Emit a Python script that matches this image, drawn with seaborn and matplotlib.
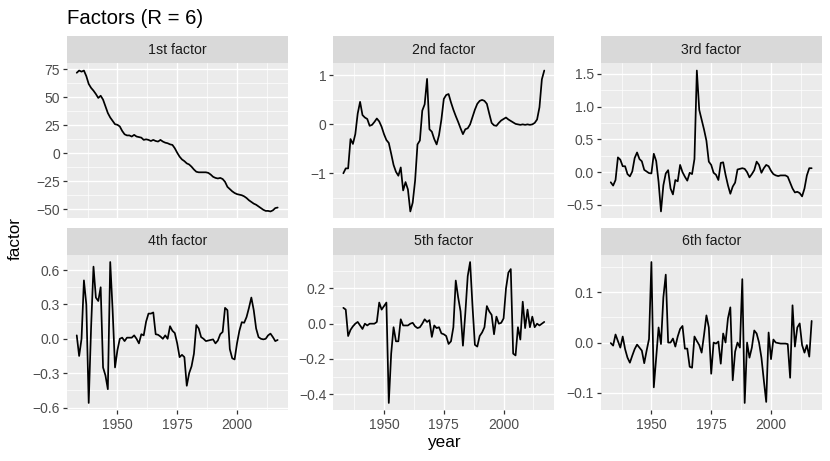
import matplotlib
matplotlib.use("Agg")
import matplotlib.pyplot as plt
import numpy as np
import seaborn as sns

years = list(range(1933, 2018))

factor_1 = [72, 74, 73, 74, 69, 62, 58.5, 56, 53, 49.5,
            51.5, 48, 42, 36, 32, 29, 26, 25.5, 24, 20,
            17, 16, 16, 15, 16.5, 15, 14.5, 14, 12, 12.5,
            12, 11, 12, 11, 10.5, 12, 10.5, 9.5, 9, 8,
            7.5, 4.5, 0.5, -3, -5.5, -7, -9, -10, -12, -14.5,
            -16.5, -17, -17, -17, -17, -17.5, -19, -21, -22, -22.5,
            -22, -23, -25.5, -30, -32, -34, -35.5, -36.5, -37, -37.5,
            -38.5, -40, -42, -43.5, -45, -46, -47.5, -49, -50.5, -51.5,
            -51.5, -52, -51, -49, -48.5]

factor_2 = [-1.0, -0.9, -0.9, -0.3, -0.4, -0.2, 0.22, 0.46, 0.19, 0.14,
            0.11, -0.03, -0.01, 0.05, 0.12, 0.06, -0.05, -0.2, -0.32, -0.38,
            -0.6, -0.83, -0.97, -1.05, -0.88, -1.35, -1.18, -1.33, -1.78, -1.6,
            -1.15, -0.41, -0.33, 0.28, 0.41, 0.93, -0.1, -0.15, -0.3, -0.41,
            -0.22, 0.1, 0.52, 0.6, 0.62, 0.45, 0.3, 0.17, 0.05, -0.08,
            -0.2, -0.1, -0.08, 0.0, 0.15, 0.3, 0.42, 0.48, 0.5, 0.48,
            0.42, 0.22, 0.03, -0.02, -0.03, 0.03, 0.08, 0.11, 0.14, 0.1,
            0.07, 0.04, 0.01, 0.0, -0.01, 0.0, -0.01, 0.0, -0.01, 0.0,
            0.03, 0.1, 0.35, 0.92, 1.1]

factor_3 = [-0.155, -0.205, -0.12, 0.225, 0.19, 0.09, 0.09, -0.03, -0.065, 0.01,
            0.215, 0.30, 0.20, 0.165, 0.035, 0.01, -0.015, -0.02, 0.28, 0.17,
            -0.15, -0.6, -0.2, -0.02, 0.03, -0.25, -0.34, -0.12, -0.14, 0.11,
            0.0, -0.07, -0.13, -0.01, -0.03, 0.2, 1.55, 0.95, 0.8, 0.65,
            0.48, 0.16, 0.11, -0.01, -0.04, -0.12, 0.14, 0.15, -0.04, -0.2,
            -0.33, -0.22, -0.16, 0.04, 0.05, 0.06, 0.05, 0.0, -0.08, -0.03,
            0.03, 0.16, 0.11, -0.01, 0.06, 0.11, 0.09, 0.02, -0.03, -0.05,
            -0.06, -0.05, -0.05, -0.05, -0.07, -0.16, -0.25, -0.31, -0.30, -0.32,
            -0.37, -0.25, -0.05, 0.06, 0.06]

factor_4 = [0.03, -0.15, 0.0, 0.51, 0.30, -0.56, 0.10, 0.63, 0.36, 0.33,
            0.45, -0.25, -0.32, -0.44, 0.67, 0.25, -0.25, -0.10, 0.0, 0.01,
            -0.02, 0.01, 0.01, 0.01, 0.03, 0.0, -0.04, 0.04, 0.03, 0.15,
            0.22, 0.22, 0.23, 0.04, 0.035, 0.02, 0.0, 0.03, 0.0, 0.11,
            0.07, 0.05, -0.04, -0.16, -0.14, -0.16, -0.41, -0.30, -0.24, -0.13,
            0.12, 0.09, 0.015, 0.0, -0.02, -0.015, -0.01, -0.005, -0.04, -0.015,
            0.04, 0.06, 0.27, 0.25, -0.09, -0.17, -0.18, -0.04, 0.07, 0.145,
            0.14, 0.19, 0.27, 0.36, 0.25, 0.09, 0.015, 0.0, -0.005, 0.0,
            0.03, 0.045, 0.015, -0.02, -0.01]

factor_5 = [0.09, 0.08, -0.07, -0.035, -0.015, 0.0, 0.01, -0.01, -0.03, 0.0,
            -0.01, 0.0, 0.0, 0.0, 0.01, 0.12, 0.08, 0.10, 0.12, -0.45,
            -0.17, -0.02, -0.10, -0.10, 0.025, -0.01, -0.01, -0.01, 0.0, 0.005,
            -0.015, -0.025, -0.02, 0.0, 0.025, 0.01, 0.02, -0.075, -0.01, -0.025,
            -0.02, -0.055, -0.06, -0.07, -0.115, -0.10, -0.02, 0.245, 0.15, 0.07,
            -0.125, 0.06, 0.27, 0.35, 0.10, -0.12, -0.13, -0.07, -0.05, -0.02,
            0.10, 0.07, 0.05, -0.06, 0.04, 0.0, 0.005, 0.03, 0.20, 0.29,
            0.31, -0.17, -0.18, -0.02, -0.09, 0.125, -0.025, 0.08, -0.02, 0.04,
            -0.02, 0.0, -0.01, 0.0, 0.01]

factor_6 = [-0.001, -0.006, 0.016, 0.003, -0.010, 0.012, -0.013, -0.030, -0.040, -0.026,
            -0.013, -0.004, -0.010, -0.016, -0.041, -0.016, 0.007, 0.160, -0.089, -0.030,
            0.030, -0.003, 0.090, 0.135, 0.000, 0.000, 0.008, -0.008, 0.012, 0.027,
            0.033, -0.012, -0.012, -0.048, -0.050, 0.012, 0.003, -0.005, -0.020, 0.015,
            0.054, 0.030, -0.062, 0.000, -0.002, 0.002, -0.042, 0.018, 0.000, 0.048,
            0.070, -0.075, -0.018, 0.000, -0.010, 0.126, -0.120, 0.000, -0.030, -0.010,
            0.024, 0.018, 0.000, -0.030, -0.075, -0.118, 0.020, -0.033, 0.006, 0.000,
            -0.001, -0.002, -0.002, -0.002, -0.003, -0.070, 0.074, -0.008, 0.030, 0.038,
            -0.005, -0.020, -0.005, -0.028, 0.043]

series = [factor_1, factor_2, factor_3, factor_4, factor_5, factor_6]
panel_titles = ["1st factor", "2nd factor", "3rd factor",
                "4th factor", "5th factor", "6th factor"]

y_breaks = [[-50, -25, 0, 25, 50, 75],
            [-1, 0, 1],
            [-0.5, 0.0, 0.5, 1.0, 1.5],
            [-0.6, -0.3, 0.0, 0.3, 0.6],
            [-0.4, -0.2, 0.0, 0.2],
            [-0.1, 0.0, 0.1]]
y_labels = [["\u221250", "\u221225", "0", "25", "50", "75"],
            ["\u22121", "0", "1"],
            ["\u22120.5", "0.0", "0.5", "1.0", "1.5"],
            ["\u22120.6", "\u22120.3", "0.0", "0.3", "0.6"],
            ["\u22120.4", "\u22120.2", "0.0", "0.2"],
            ["\u22120.1", "0.0", "0.1"]]
x_breaks = [1950, 1975, 2000]
x_labels = ["1950", "1975", "2000"]

sns.set_theme(style="darkgrid")
plt.rcParams["font.family"] = ["Liberation Sans", "DejaVu Sans"]

W, H = 830, 461
fig = plt.figure(figsize=(W / 100, H / 100), dpi=100)


def rect(x0, y0, x1, y1):
    return [x0 / W, 1 - y1 / H, (x1 - x0) / W, (y1 - y0) / H]


def minor_breaks(br, lo, hi):
    step = br[1] - br[0]
    cand = [br[0] - step / 2] + [b + step / 2 for b in br]
    return [m for m in cand if lo <= m <= hi]


col_x = [(66.7, 287.7), (333.3, 554.3), (600.7, 821.7)]
row_y = [(63.5, 218.5), (255.0, 410.0)]
strip_h = 27.3

xlo, xhi = min(years), max(years)
xpad = 0.05 * (xhi - xlo)

for i in range(6):
    r, c = divmod(i, 3)
    x0, x1 = col_x[c]
    y0, y1 = row_y[r]
    ax = fig.add_axes(rect(x0, y0, x1, y1))
    ax.set_facecolor("#EBEBEB")
    ax.set_axisbelow(True)
    sns.lineplot(x=years, y=series[i], ax=ax, color="black", linewidth=1.25)

    vals = np.array(series[i], dtype=float)
    ylo, yhi = vals.min(), vals.max()
    ypad = 0.05 * (yhi - ylo)
    ax.set_ylim(ylo - ypad, yhi + ypad)
    ax.set_xlim(xlo - xpad, xhi + xpad)

    ax.set_yticks(y_breaks[i], labels=y_labels[i])
    ax.set_yticks(minor_breaks(y_breaks[i], ylo - ypad, yhi + ypad), minor=True)
    ax.set_xticks(x_breaks, labels=x_labels)
    ax.set_xticks(minor_breaks(x_breaks, xlo - xpad, xhi + xpad), minor=True)

    ax.grid(False)
    ax.grid(which="major", color="white", linewidth=1.0)
    ax.grid(which="minor", color="white", linewidth=0.5)
    for s in ax.spines.values():
        s.set_visible(False)

    ax.tick_params(which="minor", length=0)
    ax.tick_params(axis="y", which="major", left=True, length=3.2, width=0.9,
                   color="#333333", labelsize=10, labelcolor="#4D4D4D", pad=1.8)
    if r == 1:
        ax.tick_params(axis="x", which="major", bottom=True, length=3.2, width=0.9,
                       color="#333333", labelsize=10, labelcolor="#4D4D4D", pad=2.2)
    else:
        ax.tick_params(axis="x", which="both", bottom=False, labelbottom=False)
    ax.set_xlabel("")
    ax.set_ylabel("")

    sax = fig.add_axes(rect(x0, y0 - strip_h, x1, y0))
    sax.set_facecolor("#D9D9D9")
    sax.set_xticks([])
    sax.set_yticks([])
    sax.grid(False)
    for s in sax.spines.values():
        s.set_visible(False)
    sax.text(0.5, 0.5, panel_titles[i], ha="center", va="center",
             fontsize=10.2, color="#1A1A1A", transform=sax.transAxes)

fig.text(66.7 / W, 1 - 23.5 / H, "Factors (R = 6)", fontsize=14.7,
         ha="left", va="baseline", color="black")
fig.text(15 / W, 1 - 238 / H, "factor", rotation=90, fontsize=12.3,
         ha="center", va="center", color="black")
fig.text(444.2 / W, 1 - 442 / H, "year", fontsize=12.3,
         ha="center", va="center", color="black")

fig.savefig("out.png", dpi=100)
